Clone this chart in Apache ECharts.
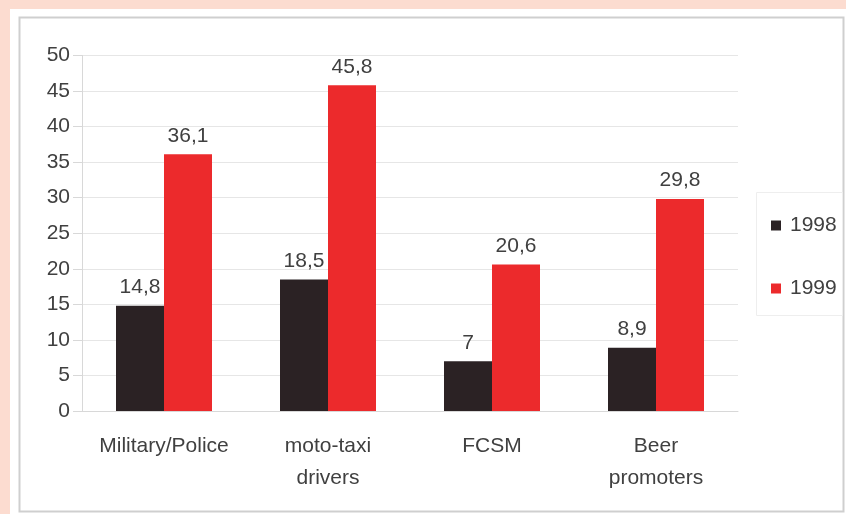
<!DOCTYPE html>
<html>
<head>
<meta charset="utf-8">
<script src="https://cdn.jsdelivr.net/npm/echarts@6/dist/echarts.min.js"></script>
<style>
html,body{margin:0;padding:0;background:#fcdcd0;}
#c{width:846px;height:514px;}
</style>
</head>
<body>
<div id="c"></div>
<script>
var categories = ['Military/Police', 'moto-taxi\ndrivers', 'FCSM', 'Beer\npromoters'];
var values1998 = [14.8, 18.5, 7, 8.9];
var values1999 = [36.1, 45.8, 20.6, 29.8];
var seriesNames = ['1998', '1999'];
var yTicks = {min: 0, max: 50, interval: 5};

var FONT = 'Liberation Sans, Arial, sans-serif';
var TXT = '#404040';
var chart = echarts.init(document.getElementById('c'));
function fmt(p){ return String(p.value).replace('.', ','); }
chart.setOption({
  backgroundColor: 'transparent',
  animation: false,
  graphic: [
    {type:'rect', z:-10, shape:{x:10,y:9,width:836,height:505}, style:{fill:'#ffffff'}},
    {type:'rect', z:-9, shape:{x:19.5,y:17.5,width:824,height:494}, style:{fill:'none', stroke:'#cfcfcf', lineWidth:2}},
    {type:'rect', z:-8, shape:{x:756.5,y:192.5,width:86,height:123}, style:{fill:'none', stroke:'#eeeeee', lineWidth:1}}
  ],
  grid: {left: 82, right: 108, top: 55.5, bottom: 103, containLabel: false},
  legend: {
    orient: 'vertical', left: 766, top: 210,
    itemWidth: 10, itemHeight: 10, itemGap: 42, icon: 'rect',
    textStyle: {fontFamily: FONT, fontSize: 21, color: TXT, padding:[0,0,0,4]},
    data: seriesNames
  },
  xAxis: {
    type: 'category', data: categories,
    axisLine: {lineStyle: {color: '#d8d8d8', width: 1}},
    axisTick: {show: false},
    axisLabel: {fontFamily: FONT, fontSize: 21, color: TXT, lineHeight: 32, margin: 19, interval: 0}
  },
  yAxis: {
    type: 'value', min: yTicks.min, max: yTicks.max, interval: yTicks.interval,
    axisLine: {show: true, lineStyle: {color: '#d8d8d8'}},
    axisTick: {show: true, length: 9, lineStyle: {color: '#d8d8d8'}},
    splitLine: {lineStyle: {color: '#e6e6e6'}},
    axisLabel: {fontFamily: FONT, fontSize: 21, color: TXT, margin: 12}
  },
  series: [
    {name: seriesNames[0], type: 'bar', data: values1998, barWidth: 48, barGap: '0%',
     itemStyle: {color: '#2b2224'},
     label: {show: true, position: 'top', distance: 8, formatter: fmt, fontFamily: FONT, fontSize: 21, color: TXT}},
    {name: seriesNames[1], type: 'bar', data: values1999, barWidth: 48, barGap: '0%',
     itemStyle: {color: '#ec2a2c'},
     label: {show: true, position: 'top', distance: 8, formatter: fmt, fontFamily: FONT, fontSize: 21, color: TXT}}
  ]
});
</script>
</body>
</html>
